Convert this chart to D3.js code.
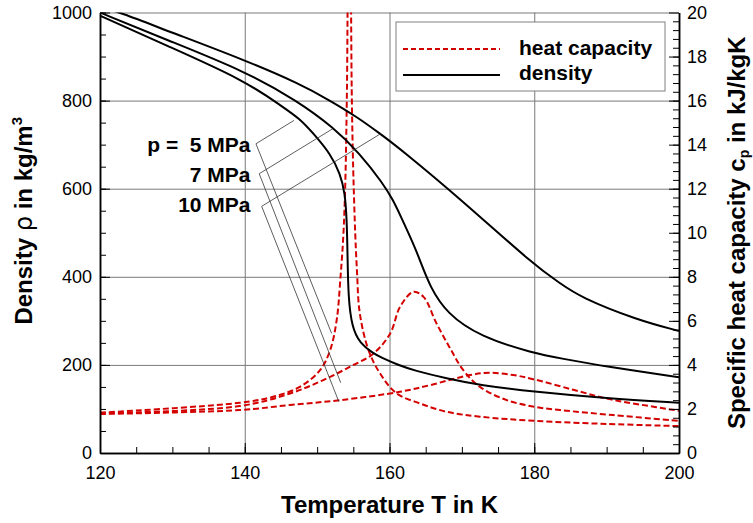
<!DOCTYPE html>
<html>
<head>
<meta charset="utf-8">
<script src="https://cdn.jsdelivr.net/npm/d3@7"></script>
<style>
  body { margin: 0; background: #fff; }
  text { font-family: "Liberation Sans", Arial, Helvetica, sans-serif; }
</style>
</head>
<body>
<svg id="chart" width="753" height="523"></svg>
<script>
// density rho [kg/m3] over temperature T [K]
const density5 = [[120, 993], [129.2, 925], [140, 846], [145.3, 785], [147.6, 759], [149.5, 725], [151.8, 680], [153.2, 634], [153.85, 590], [154.1, 528], [154.2, 453], [154.3, 354], [154.8, 286], [155.9, 249], [157.8, 226], [158.7, 218], [161.45, 198], [163.3, 188], [167.9, 169], [172.5, 154], [180, 139], [190, 124], [200, 114]];
const density7 = [[120, 1000], [129.2, 938], [140, 867], [147.2, 800], [152.2, 740], [155.9, 680], [159.1, 612], [160.5, 574], [161.45, 541], [163.3, 475], [164.2, 438], [165.6, 377], [167.9, 317], [172.5, 264], [180, 226], [183.6, 215], [190, 196], [200, 172]];
const density10 = [[120, 1013], [122.8, 1000], [129.2, 959], [140, 892], [147.6, 838], [151.8, 800], [155.5, 763], [158.7, 725], [161.45, 691], [170, 574], [180, 426], [183.6, 385], [186.3, 354], [194.2, 302], [200, 277]];

// specific heat capacity cp [kJ/kgK]
const cp5 = [[120, 1.83], [139.3, 2.28], [143.9, 2.55], [147.6, 3.0], [150.4, 3.76], [151.8, 4.67], [152.7, 6.03], [153.2, 7.85], [153.7, 10.4], [154.1, 16], [154.45, 40], [154.8, 16], [155.2, 10.57], [155.5, 8.3], [155.9, 6.34], [157.1, 4.67], [158.7, 3.61], [161.0, 2.7], [164.2, 2.25], [167.9, 1.87], [172.5, 1.65], [180, 1.46], [190, 1.32], [200, 1.22]];
const cp7 = [[120, 1.80], [139.3, 2.13], [146.25, 2.7], [150.85, 3.31], [154.5, 3.91], [157.8, 4.52], [160.1, 5.43], [161.45, 6.63], [163.3, 7.32], [164.7, 7.09], [166.5, 5.88], [168.4, 4.74], [170.2, 3.76], [172.5, 3.0], [176.2, 2.4], [180, 2.1], [183.6, 1.95], [190.9, 1.72], [200, 1.46]];
const cp10 = [[120, 1.77], [139.3, 1.95], [146.25, 2.18], [153.2, 2.4], [161.45, 2.78], [165.6, 3.08], [171.1, 3.54], [173.9, 3.64], [177.1, 3.54], [180, 3.34], [185.4, 2.87], [190, 2.47], [194.6, 2.2], [200, 1.92]];

const tTicks = [120, 140, 160, 180, 200];
const rhoTicks = [0, 200, 400, 600, 800, 1000];
const cpTicks = [0, 2, 4, 6, 8, 10, 12, 14, 16, 18, 20];

// pressure labels with leader lines (T, rho) / (T, cp)
const pLabels = ["p =  5 MPa", "7 MPa", "10 MPa"];
const labelAt = [[140.8, 683], [140.8, 615], [140.8, 547]];
const leaderFrom = [[141.55, 702], [142.0, 634], [142.34, 560]];
const leaderRho = [[146.8, 755], [152.15, 736], [158.8, 725]];
const leaderCp = [[152.0, 5.43], [153.26, 3.19], [153.0, 2.33]];

const svg = d3.select("#chart");
const margin = { top: 12.5, right: 74, bottom: 70, left: 100 };
const W = 753, H = 523;
const innerW = W - margin.left - margin.right;
const innerH = H - margin.top - margin.bottom;

const g = svg.append("g").attr("transform", `translate(${margin.left},${margin.top})`);

const x = d3.scaleLinear().domain([120, 200]).range([0, innerW]);
const yRho = d3.scaleLinear().domain([0, 1000]).range([innerH, 0]);
const yCp = d3.scaleLinear().domain([0, 20]).range([innerH, 0]);

svg.append("defs").append("clipPath").attr("id", "clip")
  .append("rect").attr("width", innerW).attr("height", innerH);

// Grid
g.append("g")
  .call(d3.axisBottom(x).tickValues(tTicks.slice(1, -1)).tickSize(innerH).tickFormat(""))
  .call(s => s.select(".domain").remove())
  .selectAll("line").attr("stroke", "#7a7a7a").attr("stroke-width", 1);
g.append("g")
  .call(d3.axisLeft(yRho).tickValues(rhoTicks.slice(1)).tickSize(-innerW).tickFormat(""))
  .call(s => s.select(".domain").remove())
  .selectAll("line").attr("stroke", "#7a7a7a").attr("stroke-width", 1);

// Curves
const lineRho = d3.line().x(d => x(d[0])).y(d => yRho(d[1])).curve(d3.curveBasis);
const lineCp = d3.line().x(d => x(d[0])).y(d => yCp(d[1])).curve(d3.curveCatmullRom.alpha(0.5));

const curves = g.append("g").attr("clip-path", "url(#clip)");
[cp5, cp7, cp10].forEach(d => {
  curves.append("path").datum(d).attr("d", lineCp)
    .attr("fill", "none").attr("stroke", "#d40000").attr("stroke-width", 2)
    .attr("stroke-dasharray", "6,3");
});
[density5, density7, density10].forEach(d => {
  curves.append("path").datum(d).attr("d", lineRho)
    .attr("fill", "none").attr("stroke", "#000").attr("stroke-width", 2);
});

// Axes
function styleAxis(s) {
  s.select(".domain").attr("stroke", "#000").attr("stroke-width", 1.5);
  s.selectAll(".tick line").attr("stroke", "#000");
  s.selectAll("text").style("font-size", "18px").attr("fill", "#000");
}
const fmt = d3.format("d");

g.append("g").attr("transform", `translate(0,${innerH})`)
  .call(d3.axisBottom(x).tickValues(d3.range(120, 201, 5)).tickSize(-6).tickSizeOuter(0).tickFormat(""))
  .call(styleAxis);
g.append("g").attr("transform", `translate(0,${innerH})`)
  .call(d3.axisBottom(x).tickValues(tTicks).tickFormat(fmt).tickSizeInner(-10).tickSizeOuter(0).tickPadding(13))
  .call(styleAxis);

g.append("g")
  .call(d3.axisLeft(yRho).tickValues(d3.range(0, 1001, 50)).tickSize(-6).tickSizeOuter(0).tickFormat(""))
  .call(styleAxis);
g.append("g")
  .call(d3.axisLeft(yRho).tickValues(rhoTicks).tickFormat(fmt).tickSizeInner(-10).tickSizeOuter(0).tickPadding(8))
  .call(styleAxis);

g.append("g").attr("transform", `translate(${innerW},0)`)
  .call(d3.axisRight(yCp).tickValues(d3.range(0, 50).map(i => i * 0.4)).tickSize(-6).tickSizeOuter(0).tickFormat(""))
  .call(styleAxis);
g.append("g").attr("transform", `translate(${innerW},0)`)
  .call(d3.axisRight(yCp).tickValues(cpTicks).tickFormat(fmt).tickSizeInner(-10).tickSizeOuter(0).tickPadding(8))
  .call(styleAxis);

// Axis titles
svg.append("text")
  .attr("x", margin.left + innerW / 2).attr("y", 513)
  .attr("text-anchor", "middle")
  .style("font-size", "24px").style("font-weight", "bold")
  .text("Temperature T in K");

const tl = svg.append("text")
  .attr("transform", `translate(32,${margin.top + innerH / 2 - 12}) rotate(-90)`)
  .attr("text-anchor", "middle")
  .style("font-size", "24px").style("font-weight", "bold");
tl.append("tspan").text("Density ");
tl.append("tspan").style("font-weight", "normal").style("font-family", "DejaVu Sans").text("ρ");
tl.append("tspan").text(" in kg/m");
tl.append("tspan").attr("dy", -10).style("font-size", "15px").text("3");

const tr = svg.append("text")
  .attr("transform", `translate(745,${margin.top + innerH / 2}) rotate(-90)`)
  .attr("text-anchor", "middle")
  .style("font-size", "24px").style("font-weight", "bold");
tr.append("tspan").text("Specific heat capacity c");
tr.append("tspan").attr("dy", 4).style("font-size", "14px").text("p");
tr.append("tspan").attr("dy", -4).text(" in kJ/kgK");

// Legend
const lg = svg.append("g");
lg.append("rect").attr("x", 396).attr("y", 22).attr("width", 269).attr("height", 69)
  .attr("fill", "#fff").attr("stroke", "#808080").attr("stroke-width", 1);
lg.append("line").attr("x1", 403).attr("x2", 500).attr("y1", 49).attr("y2", 49)
  .attr("stroke", "#d40000").attr("stroke-width", 2).attr("stroke-dasharray", "5,3");
lg.append("line").attr("x1", 403).attr("x2", 500).attr("y1", 75).attr("y2", 75)
  .attr("stroke", "#000").attr("stroke-width", 2);
lg.append("text").attr("x", 519).attr("y", 55).style("font-size", "21px").style("font-weight", "bold").text("heat capacity");
lg.append("text").attr("x", 519).attr("y", 80).style("font-size", "21px").style("font-weight", "bold").text("density");

// Pressure labels
pLabels.forEach((t, i) => {
  g.append("text")
    .attr("x", x(labelAt[i][0])).attr("y", yRho(labelAt[i][1]))
    .attr("text-anchor", "end")
    .style("white-space", "pre")
    .style("font-size", "21px").style("font-weight", "bold")
    .text(t);
  const x0 = x(leaderFrom[i][0]), y0 = yRho(leaderFrom[i][1]);
  g.append("line").attr("x1", x0).attr("y1", y0)
    .attr("x2", x(leaderRho[i][0])).attr("y2", yRho(leaderRho[i][1]))
    .attr("stroke", "#333").attr("stroke-width", 0.8);
  g.append("line").attr("x1", x0).attr("y1", y0)
    .attr("x2", x(leaderCp[i][0])).attr("y2", yCp(leaderCp[i][1]))
    .attr("stroke", "#333").attr("stroke-width", 0.8);
});
</script>
</body>
</html>
